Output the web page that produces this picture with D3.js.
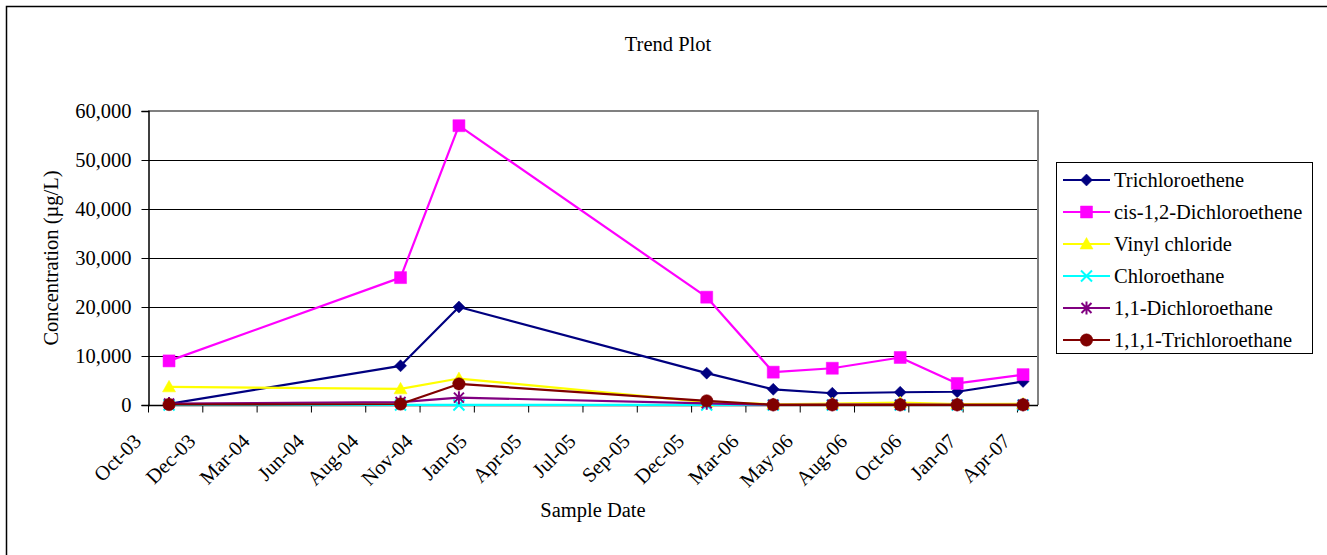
<!DOCTYPE html>
<html>
<head>
<meta charset="utf-8">
<script src="https://cdn.jsdelivr.net/npm/d3@7"></script>
<style>
  html, body { margin: 0; padding: 0; background: #fff; }
  svg { display: block; }
  text { font-family: "Liberation Serif", "Times New Roman", serif; fill: #000; }
</style>
</head>
<body>
<svg id="chart" width="1327" height="555"></svg>
<script>
// Sampling dates (one per monitoring event)
const sampleDates = ["2003-11-05", "2004-10-11", "2005-01-05", "2006-01-05", "2006-04-13",
                     "2006-07-09", "2006-10-17", "2007-01-09", "2007-04-16"];

// Concentrations in µg/L per compound
const trichloroethene    = [220, 8000, 20000, 6500, 3200, 2400, 2600, 2700, 4800];
const cisDichloroethene  = [9000, 26000, 57000, 22000, 6700, 7500, 9700, 4400, 6200];
const vinylChloride      = [3700, 3300, 5400, 600, 150, 300, 500, 200, 250];
const chloroethane       = [10, 10, 10, 10, 5, 5, 5, 5, 5];
const dichloroethane11   = [300, 600, 1500, 350, 50, 60, 60, 50, 50];
const trichloroethane111 = [100, 200, 4300, 850, 40, 40, 40, 40, 40];

const seriesNames = ["Trichloroethene", "cis-1,2-Dichloroethene", "Vinyl chloride",
                     "Chloroethane", "1,1-Dichloroethane", "1,1,1-Trichloroethane"];
const seriesValues = [trichloroethene, cisDichloroethene, vinylChloride,
                      chloroethane, dichloroethane11, trichloroethane111];
const seriesColors = ["#000080", "#FF00FF", "#FFFF00", "#00FFFF", "#800080", "#800000"];
const seriesMarkers = ["diamond", "square", "triangle", "x", "asterisk", "circle"];

// Y axis tick values
const yTicks = [0, 10000, 20000, 30000, 40000, 50000, 60000];

// Date axis: start date, major unit (days) and total span
const axisStart = "2003-10-05";
const majorUnitDays = 80;
const axisSpanDays = 1311;

const parse = d3.timeParse("%Y-%m-%d");
const dates = sampleDates.map(parse);
const xMin = parse(axisStart);
const xMax = d3.timeDay.offset(xMin, axisSpanDays);
const xTickValues = d3.range(0, axisSpanDays, majorUnitDays).map(k => d3.timeDay.offset(xMin, k));

const svg = d3.select("#chart");
const plot = { left: 148, right: 1038, top: 111, bottom: 405 };

const x = d3.scaleTime().domain([xMin, xMax]).range([plot.left, plot.right]);
const y = d3.scaleLinear().domain([0, 60000]).range([plot.bottom, plot.top]);

// Outer chart frame
svg.append("rect")
  .attr("x", 6.5).attr("y", 6.5).attr("width", 1340).attr("height", 570)
  .attr("fill", "#fff").attr("stroke", "#000").attr("stroke-width", 1.5);

// Title
svg.append("text").attr("x", 668).attr("y", 51).attr("text-anchor", "middle")
  .style("font-size", "20.5px").text("Trend Plot");

// Horizontal gridlines
svg.append("g").selectAll("line").data(yTicks.filter(v => v > 0 && v < 60000)).join("line")
  .attr("x1", plot.left).attr("x2", plot.right)
  .attr("y1", d => Math.round(y(d)) + 0.5).attr("y2", d => Math.round(y(d)) + 0.5)
  .attr("stroke", "#000").attr("stroke-width", 1);

// Plot area border (top and right)
svg.append("path")
  .attr("d", `M${plot.left},${plot.top} H${plot.right} V${plot.bottom}`)
  .attr("fill", "none").attr("stroke", "#808080").attr("stroke-width", 2);

// Y axis
const yAxis = d3.axisLeft(y).tickValues(yTicks).tickSize(7).tickPadding(10)
  .tickFormat(d3.format(","));
const gy = svg.append("g").attr("transform", `translate(${plot.left + 0.5},0)`).call(yAxis);
gy.select(".domain").attr("stroke", "#000").attr("stroke-width", 1.5);
gy.selectAll(".tick line").attr("stroke", "#000");
gy.selectAll(".tick text").style("font-size", "20.5px")
  .style("font-family", '"Liberation Serif", serif').attr("fill", "#000");

// X axis (date axis)
const xAxis = d3.axisBottom(x).tickValues(xTickValues).tickSize(7)
  .tickFormat(d3.timeFormat("%b-%y"));
const gx = svg.append("g").attr("transform", `translate(0,${plot.bottom + 0.5})`).call(xAxis);
gx.select(".domain").attr("stroke", "#000").attr("stroke-width", 1.5)
  .attr("d", `M${plot.left},0H${plot.right}`);
gx.selectAll(".tick line").attr("stroke", "#000");
gx.selectAll(".tick text")
  .style("font-size", "20.5px").style("font-family", '"Liberation Serif", serif')
  .attr("fill", "#000")
  .attr("text-anchor", "end")
  .attr("dy", null)
  .attr("y", 0)
  .attr("transform", "translate(-6,37) rotate(-45)");

// Axis titles
svg.append("text").attr("x", 593).attr("y", 517).attr("text-anchor", "middle")
  .style("font-size", "20.5px").text("Sample Date");
svg.append("text").attr("transform", "translate(58,258) rotate(-90)")
  .attr("text-anchor", "middle").style("font-size", "20.5px").text("Concentration (µg/L)");

// Marker shapes
function markerPath(kind) {
  const h = 6;
  switch (kind) {
    case "diamond": return `M0,${-h}L${h},0L0,${h}L${-h},0Z`;
    case "square": return `M${-h},${-h}H${h}V${h}H${-h}Z`;
    case "triangle": return `M0,${-6.5}L6.5,5L-6.5,5Z`;
    case "x": return `M${-5.5},${-5.5}L5.5,5.5M5.5,${-5.5}L${-5.5},5.5`;
    case "asterisk": return `M${-5},${-5}L5,5M5,${-5}L${-5},5M0,${-6.5}V6.5`;
    case "circle": return d3.arc()({ innerRadius: 0, outerRadius: 6.2, startAngle: 0, endAngle: 2 * Math.PI });
  }
}
function drawMarker(sel, kind, color) {
  const open = kind === "x" || kind === "asterisk";
  sel.attr("d", markerPath(kind))
    .attr("fill", open ? "none" : color)
    .attr("stroke", color)
    .attr("stroke-width", open ? 2 : 0.5);
}

const line = d3.line().x(d => x(d.date)).y(d => y(d.value));

const seriesData = seriesNames.map((name, i) => ({
  name, color: seriesColors[i], marker: seriesMarkers[i],
  points: dates.map((d, j) => ({ date: d, value: seriesValues[i][j] }))
}));

const gSeries = svg.append("g");
seriesData.forEach(s => {
  const g = gSeries.append("g");
  g.append("path").datum(s.points).attr("d", line)
    .attr("fill", "none").attr("stroke", s.color).attr("stroke-width", 2.2)
    .attr("stroke-linejoin", "round");
  g.selectAll("path.m").data(s.points).join("path").attr("class", "m")
    .attr("transform", d => `translate(${x(d.date)},${y(d.value)})`)
    .call(drawMarker, s.marker, s.color);
});

// Legend
const legend = svg.append("g");
legend.append("rect").attr("x", 1056.5).attr("y", 162.5).attr("width", 256).attr("height", 191)
  .attr("fill", "#fff").attr("stroke", "#000").attr("stroke-width", 1);
seriesData.forEach((s, i) => {
  const cy = 180 + i * 32;
  const g = legend.append("g").attr("transform", `translate(0,${cy})`);
  g.append("line").attr("x1", 1063).attr("x2", 1110).attr("y1", 0).attr("y2", 0)
    .attr("stroke", s.color).attr("stroke-width", 2.2);
  g.append("path").attr("transform", "translate(1086.5,0)").call(drawMarker, s.marker, s.color);
  g.append("text").attr("x", 1114).attr("y", 7).style("font-size", "20.5px").text(s.name);
});
</script>
</body>
</html>
